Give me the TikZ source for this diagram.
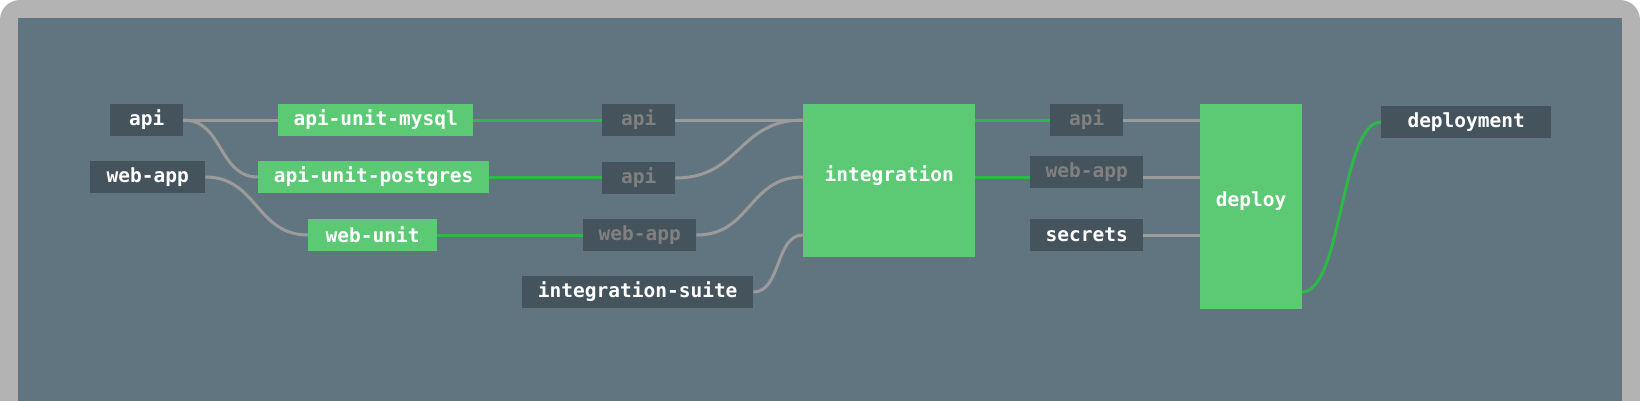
\documentclass[tikz,border=0pt]{standalone}
\usepackage{fontspec}
\setmonofont{DejaVu Sans Mono}
\usetikzlibrary{calc}
\definecolor{framegray}{RGB}{179,179,179}
\definecolor{panel}{RGB}{97,117,128}
\definecolor{resdark}{RGB}{69,83,92}
\definecolor{jobgreen}{RGB}{92,202,116}
\definecolor{linegreen}{RGB}{45,185,72}
\definecolor{linegray}{RGB}{155,155,155}
\definecolor{dimtext}{RGB}{128,128,128}
\begin{document}
\begin{tikzpicture}[x=1pt,y=-1pt,
  lbl/.style={font=\ttfamily\bfseries\fontsize{19.5}{19.5}\selectfont, text=white},
  box/.style={rectangle, inner sep=0pt, minimum height=32pt, anchor=west, lbl},
  res/.style={box, fill=resdark},
  dimres/.style={res, text=dimtext},
  job/.style={box, fill=jobgreen},
  bigjob/.style={job, anchor=north west},
  gline/.style={draw=linegray, line width=3pt},
  okline/.style={draw=linegreen, line width=3pt}]
\useasboundingbox (0,0) rectangle (1640,400);
\clip (0,0) rectangle (1640,400);
\fill[white] (0,0) rectangle (1640,400);
\fill[framegray, rounded corners=20pt] (0,0) rectangle (1640,440);
\fill[panel] (18,18) rectangle (1622,420);

% resources (inputs)
\node[res, minimum width=73pt] (api) at (110,120) {api};
\node[res, minimum width=115pt] (webapp) at (90,177) {web-app};
% unit jobs
\node[job, minimum width=195pt] (mysql) at (278,120) {api-unit-mysql};
\node[job, minimum width=231pt] (postgres) at (258,177) {api-unit-postgres};
\node[job, minimum width=129pt] (webunit) at (308,235) {web-unit};
% intermediate resources
\node[dimres, minimum width=73pt] (api1) at (602,120) {api};
\node[dimres, minimum width=73pt] (api2) at (602,178) {api};
\node[dimres, minimum width=113pt] (webapp2) at (583,235) {web-app};
\node[res, minimum width=231pt] (suite) at (522,292) {integration-suite};
% integration job
\node[bigjob, minimum width=172pt, minimum height=153pt,
  label={[lbl, yshift=5pt]center:integration}] (integ) at (803,104) {};
\coordinate (in1) at ($(integ.north west)+(0,16)$);
\coordinate (in2) at ($(integ.north west)+(0,73)$);
\coordinate (in3) at ($(integ.north west)+(0,131)$);
\coordinate (out1) at ($(integ.north east)+(0,16)$);
\coordinate (out2) at ($(integ.north east)+(0,73)$);
% resources after integration
\node[dimres, minimum width=73pt] (api3) at (1050,120) {api};
\node[dimres, minimum width=113pt] (webapp3) at (1030,172) {web-app};
\node[res, minimum width=113pt] (secrets) at (1030,235) {secrets};
% deploy job
\node[bigjob, minimum width=102pt, minimum height=205pt,
  label={[lbl, yshift=6pt]center:deploy}] (deploy) at (1200,104) {};
\coordinate (din1) at ($(deploy.north west)+(0,16)$);
\coordinate (din2) at ($(deploy.north west)+(0,73)$);
\coordinate (din3) at ($(deploy.north west)+(0,131)$);
\coordinate (dout) at ($(deploy.north west)+(102,188)$);
\node[res, minimum width=170pt] (deployment) at (1381,122) {deployment};

% connectors
\draw[gline] (api.east) -- (mysql.west);
\draw[gline] (api.east) .. controls +(40,0) and +(-40,0) .. (postgres.west);
\draw[gline] (webapp.east) .. controls +(52,0) and +(-52,0) .. (webunit.west);
\draw[okline] (mysql.east) -- (api1.west);
\draw[okline] (postgres.east) -- (postgres.east -| api2.west);
\draw[okline] (webunit.east) -- (webapp2.west);
\draw[gline] (api1.east) -- (in1);
\draw[gline] (api2.east) .. controls +(65,0) and +(-65,0) .. (in1);
\draw[gline] (webapp2.east) .. controls +(55,0) and +(-55,0) .. (in2);
\draw[gline] (suite.east) .. controls +(28,0) and +(-28,0) .. (in3);
\draw[okline] (out1) -- (out1 -| api3.west);
\draw[okline] (out2) -- (out2 -| webapp3.west);
\draw[gline] (din1 -| api3.east) -- (din1);
\draw[gline] (din2 -| webapp3.east) -- (din2);
\draw[gline] (secrets.east) -- (din3);
\draw[okline] (dout) .. controls +(40,0) and +(-40,0) .. (deployment.west);
\end{tikzpicture}
\end{document}
